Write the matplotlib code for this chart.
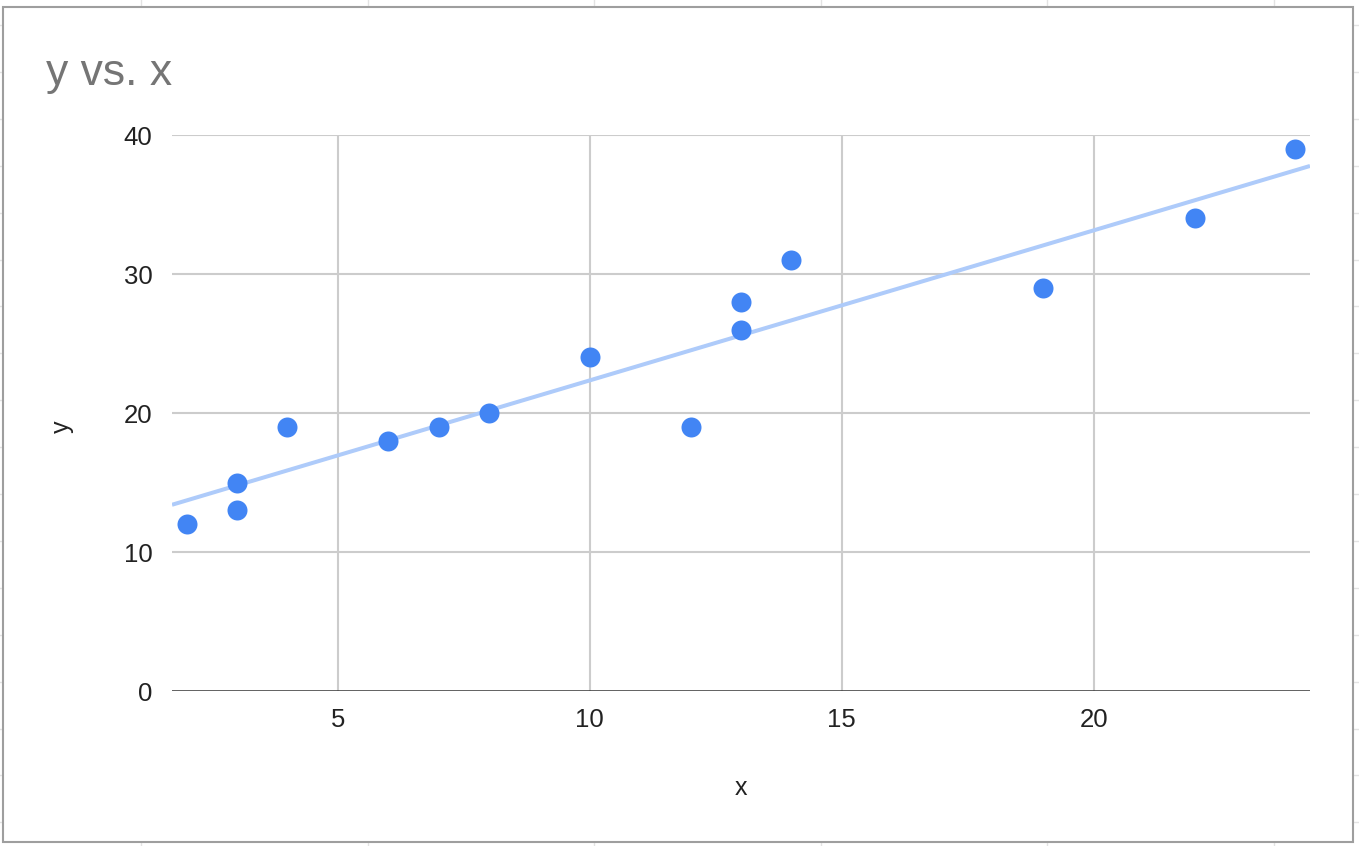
import numpy as np
import matplotlib
matplotlib.use("Agg")
import matplotlib.pyplot as plt
from matplotlib.patches import Rectangle
from matplotlib.lines import Line2D

x_vals = [2, 3, 3, 4, 6, 7, 8, 10, 12, 13, 13, 14, 19, 22, 24]
y_vals = [12, 15, 13, 19, 18, 19, 20, 24, 19, 28, 26, 31, 29, 34, 39]
x_ticks = [5, 10, 15, 20]
y_ticks = [0, 10, 20, 30, 40]
title = "y vs. x"
x_label = "x"
y_label = "y"

W, H = 1359, 846
plt.rcParams['font.family'] = ['Liberation Sans', 'DejaVu Sans']
fig = plt.figure(figsize=(W / 100, H / 100), dpi=100)
fig.patch.set_facecolor('white')

# spreadsheet grid behind the chart
for k in range(-1, 7):
    xp = 141 + 226.5 * k
    fig.add_artist(Line2D([xp / W, xp / W], [0, 1], color='#e3e3e3', lw=1, zorder=0))
for k in range(-1, 19):
    yp = 25 + 46.9 * k
    fig.add_artist(Line2D([0, 1], [1 - yp / H, 1 - yp / H], color='#e3e3e3', lw=1, zorder=0))

# chart card
fig.add_artist(Rectangle((3 / W, 1 - 842 / H), (1353 - 3) / W, (842 - 7) / H,
                         facecolor='white', edgecolor='#9e9e9e', lw=1.5, zorder=1))

left, right, top, bottom = 172, 1310, 135, 691
ax = fig.add_axes([left / W, 1 - bottom / H, (right - left) / W, (bottom - top) / H], zorder=2)
ax.set_facecolor('none')

ax.set_xlim(1.71, 24.29)
ax.set_ylim(0, 40)

for s in ax.spines.values():
    s.set_visible(False)

ax.set_xticks(x_ticks)
ax.set_yticks(y_ticks)
ax.tick_params(length=0, labelsize=18.5, colors='#222222')
ax.tick_params(axis='y', pad=14)
ax.tick_params(axis='x', pad=12)

for t in y_ticks[1:]:
    ax.axhline(t, color='#cccccc', lw=1.5, zorder=1)
for t in x_ticks:
    ax.axvline(t, color='#cccccc', lw=1.5, zorder=1)
ax.axhline(0, color='#333333', lw=1.8, zorder=2)

# trendline (linear least squares)
xa = np.array(x_vals, float)
ya = np.array(y_vals, float)
m, b = np.polyfit(xa, ya, 1)
xl = np.array(ax.get_xlim())
ax.plot(xl, m * xl + b, color='#aecbfa', lw=2.9, zorder=3, solid_capstyle='butt')

ax.plot(x_vals, y_vals, 'o', color='#4285f4', markersize=14.4, markeredgewidth=0, zorder=4)

fig.text(741 / W, 1 - 788 / H, x_label, fontsize=18, color='#222222', ha='center', va='center')
fig.text(62 / W, 1 - 427 / H, y_label, fontsize=18, color='#222222', ha='center', va='center',
         rotation=90)

fig.text(46 / W, 1 - 74 / H, title, fontsize=32, color='#757575', va='center', ha='left')

fig.savefig('out.png', dpi=100, facecolor='white')
